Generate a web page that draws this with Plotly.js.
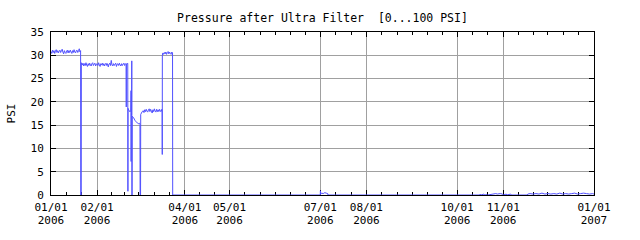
<!DOCTYPE html>
<html>
<head>
<meta charset="utf-8">
<script src="https://cdn.plot.ly/plotly-3.0.1.min.js"></script>
<style>html,body{margin:0;padding:0;background:#fff;}#chart{width:640px;height:240px;}</style>
</head>
<body>
<div id="chart"></div>
<script>
// Days since 2006-01-01 (00:00) for each sample
const dayOffsets = [
  0,0.5,1,1.5,2,2.5,3,3.5,4,4.5,5,5.5,6,6.5,7,7.5,8,8.5,9,9.5,10,10.5,11,11.5,12,12.5,13,13.5,14,14.5,
  15,15.5,16,16.5,17,17.5,18,18.5,19,19.5,19.9,20.0,20.3,20.4,
  21,21.5,22,22.5,23,23.5,24,24.5,25,25.5,26,26.5,27,27.5,28,28.5,29,29.5,30,30.5,31,31.5,32,32.5,33,33.5,
  34,34.5,35,35.5,36,36.5,37,37.5,38,38.5,39,39.5,40,40.5,41,41.5,42,42.5,43,43.5,44,44.5,45,45.5,46,46.5,
  47,47.5,48,48.5,49,49.5,50,50.5,50.6,50.7,51,51.5,51.6,51.7,51.8,52.2,52.7,53.2,53.6,53.8,53.85,53.9,
  54.2,54.3,54.4,54.5,54.6,55,55.5,56,56.5,57,57.5,58,58.5,59,59.5,59.8,59.9,60.2,60.3,60.8,61.3,62,62.5,
  63,63.5,64,64.5,65,65.5,66,66.5,67,67.5,68,68.5,69,69.5,70,70.5,71,71.5,72,72.5,73,73.5,74,74.5,74.7,
  74.8,74.85,75.2,75.7,76.2,76.7,77.2,77.7,78.2,78.7,79.2,79.7,80.2,80.7,81.2,81.7,81.8,
  120,181,181.1,181.3,182,183,184,185,186,186.2,
  288,288.5,289,291,291.5,293,293.5,299,300,302,303.5,304,306,306.5,309,309.5,
  320,320.5,322,324,326,328,330,332,334,336,338,340,342,344,346,348,350,352,354,356,358,360,362,364,365
];
const psiValues = [
  30.8,30.4,31.1,30.6,31.0,30.4,30.9,31.2,30.6,31.0,30.5,30.9,31.1,30.6,31.0,31.3,30.7,30.3,31.0,30.6,30.4,30.9,31.1,30.5,31.0,30.6,31.1,30.7,30.4,31.0,
  30.6,31.2,30.7,30.5,31.0,31.1,30.6,31.0,31.4,30.7,31.0,0,0,28.4,
  27.9,28.3,27.7,28.2,27.8,28.4,27.9,27.6,28.2,27.8,28.3,27.9,27.7,28.2,28.4,27.8,28.1,28.3,27.7,28.1,28.2,27.8,28.4,27.9,27.6,28.2,
  27.9,28.3,27.8,28.2,27.7,28.1,28.3,27.8,28.2,27.5,28.1,28.3,27.8,28.9,27.9,27.7,28.2,27.8,28.1,28.3,27.6,28.1,28.2,27.8,28.3,27.9,
  27.7,28.2,27.8,28.1,28.3,27.8,28.2,28.0,18.9,28.2,28.1,28.3,28.2,0.8,18.6,18.3,18.0,17.8,17.9,22.4,7.2,17.5,
  17.2,28.8,0,0,16.9,16.8,16.6,16.3,16.0,15.8,15.6,15.5,15.4,15.3,15.4,15.2,0,0,17.3,17.6,17.9,18.1,17.7,
  18.3,17.9,18.4,18.0,17.8,18.3,18.5,17.9,18.4,18.0,17.6,18.3,17.9,18.5,18.0,17.8,18.4,17.9,18.3,17.9,18.4,18.0,17.9,18.4,18.1,
  8.7,30.0,30.5,30.2,30.6,30.3,30.7,30.2,30.6,30.8,30.3,30.7,30.4,30.2,30.7,30.5,0,
  0,0,0.9,0.2,0.4,0.3,0.5,0.4,0.3,0,
  0,0.2,0,0.2,0,0.1,0,0.3,0.2,0.3,0.2,0,0.2,0,0.2,0,
  0,0.2,0.3,0.2,0.3,0.2,0.4,0.2,0.3,0.2,0.3,0.2,0.4,0.2,0.3,0.2,0.3,0.4,0.2,0.3,0.4,0.3,0.2,0.3,0.2
];
const tickDates = ['2006-01-01','2006-02-01','2006-04-01','2006-05-01','2006-07-01','2006-08-01','2006-10-01','2006-11-01','2007-01-01'];
const tickDayMonth = ['01/01','02/01','04/01','05/01','07/01','08/01','10/01','11/01','01/01'];
const tickYears = ['2006','2006','2006','2006','2006','2006','2006','2006','2007'];
const yTicks = [0,5,10,15,20,25,30,35];

const base = Date.UTC(2006,0,1);
function fmt(ms){ return new Date(ms).toISOString().replace('T',' ').slice(0,19); }
const xDates = dayOffsets.map(d => fmt(base + d*864e5));

// minor ticks: each month split in thirds
const minorTicks = [];
for (let m = 0; m < 12; m++) {
  const s = Date.UTC(2006,m,1), e = Date.UTC(2006,m+1,1);
  minorTicks.push(fmt(s), fmt(s+(e-s)/3), fmt(s+2*(e-s)/3));
}

const trace = {
  x: xDates, y: psiValues, type: 'scatter', mode: 'lines',
  line: {color: '#5050ff', width: 1, simplify: false}, hoverinfo: 'skip'
};
const yearTrace = {
  x: [tickDates[0]], y: [0], xaxis: 'x2', type: 'scatter', mode: 'lines',
  line: {width: 0}, hoverinfo: 'skip', showlegend: false
};

const layout = {
  width: 640, height: 240,
  margin: {l: 51, r: 46, t: 32, b: 45, pad: 0},
  paper_bgcolor: '#fff', plot_bgcolor: '#fff',
  font: {family: 'DejaVu Sans Mono, monospace', size: 11, color: '#000'},
  showlegend: false,
  title: {text: 'Pressure after Ultra Filter  [0...100 PSI]', x: 0.5, xref: 'paper', y: 0.925, yref: 'container', yanchor: 'middle', font: {size: 11.5, color: '#000'}},
  xaxis: {
    type: 'date', range: ['2006-01-01','2007-01-01'],
    tickmode: 'array', tickvals: tickDates, ticktext: tickDayMonth,
    ticks: 'inside', ticklen: 5, tickcolor: '#000', tickwidth: 1,
    showgrid: true, gridcolor: '#a0a0a0', gridwidth: 1,
    showline: true, linecolor: '#000', linewidth: 1, mirror: 'ticks',
    zeroline: false, layer: 'below traces', ticklabelstandoff: 2,
    tickfont: {size: 11, color: '#000'},
    minor: {tickmode: 'array', tickvals: minorTicks, ticks: 'inside', ticklen: 3, tickcolor: '#000', showgrid: false}
  },
  xaxis2: {
    type: 'date', range: ['2006-01-01','2007-01-01'], overlaying: 'x', side: 'bottom', anchor: 'y',
    tickmode: 'array', tickvals: tickDates, ticktext: tickYears,
    ticks: '', showgrid: false, showline: false, zeroline: false,
    ticklabelstandoff: 17, tickfont: {size: 11, color: '#000'}
  },
  yaxis: {
    range: [0, 35], tickmode: 'array', tickvals: yTicks,
    ticks: 'inside', ticklen: 5, tickcolor: '#000', tickwidth: 1,
    showgrid: true, gridcolor: '#a0a0a0', gridwidth: 1,
    showline: true, linecolor: '#000', linewidth: 1, mirror: 'ticks',
    zeroline: false, layer: 'below traces',
    tickfont: {size: 11, color: '#000'}, ticklabelstandoff: 4,
    title: {text: 'PSI', standoff: 12, font: {size: 11, color: '#000'}}
  }
};

Plotly.newPlot('chart', [trace, yearTrace], layout, {staticPlot: true, displayModeBar: false});
</script>
</body>
</html>
